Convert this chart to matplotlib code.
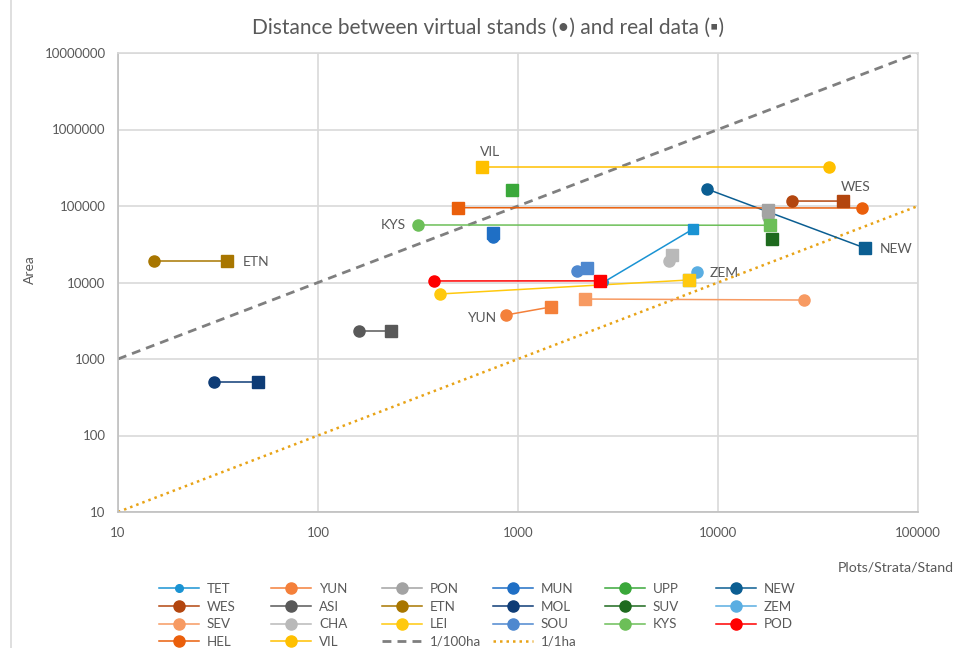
import matplotlib
matplotlib.use("Agg")
import matplotlib.pyplot as plt
from matplotlib.lines import Line2D

plt.rcParams['font.family'] = ['Lato', 'DejaVu Sans']

# ---- data: (virtual stand point, real data point) ----
names = ["TET", "YUN", "PON", "MUN", "UPP", "NEW",
         "WES", "ASI", "ETN", "MOL", "SUV", "ZEM",
         "SEV", "CHA", "LEI", "SOU", "KYS", "POD",
         "HEL", "VIL"]
colors = ["#1a93d3", "#f4803a", "#a3a3a3", "#1f6fc5", "#3aa83a", "#0b5e92",
          "#b3460f", "#595959", "#a87600", "#0e3c76", "#1e6a1e", "#5aaee2",
          "#f79a62", "#b9b9b9", "#ffc90e", "#4e88cf", "#6cbf58", "#ff0000",
          "#ea5f0b", "#ffc000"]
virt_x = [2690, 871, 17780, 750, 933, 8810,
          23440, 160, 15.1, 30.2, 18620, 7850,
          26900, 5690, 407, 1972, 316, 380,
          52500, 35900]
virt_y = [10160, 3760, 71800, 39400, 161900, 166700,
          116100, 2320, 19100, 500, 37000, 13700,
          5900, 19060, 7080, 14100, 56500, 10470,
          94200, 324000]
real_x = [7500, 1462, 17780, 750, 933, 54300,
          42170, 232, 35.1, 50.1, 18620, 7160,
          2163, 5890, 7160, 2213, 18200, 2570,
          501, 660]
real_y = [50000, 4790, 88700, 44400, 161900, 28200,
          116000, 2320, 19100, 500, 37500, 10790,
          6080, 22800, 10790, 15500, 56000, 10500,
          95000, 324000]

ref_x = [10, 100000]
ref_100ha = [1000, 10000000]
ref_1ha = [10, 100000]

labels_shown = {"VIL": ("real", 6, 11, "center"),
                "KYS": ("virt", -9, 0, "right"),
                "ETN": ("real", 11, -1, "left"),
                "YUN": ("virt", -7, -2, "right"),
                "WES": ("real", 9, 10, "center"),
                "NEW": ("real", 11, -1, "left"),
                "ZEM": ("virt", 9, -1, "left")}

W, H = 956, 648
fig = plt.figure(figsize=(W / 100, H / 100), dpi=100)
ax = fig.add_axes([118 / W, 1 - 512 / H, 800 / W, 459 / H])
ax.set_xscale("log")
ax.set_yscale("log")
ax.set_xlim(10, 100000)
ax.set_ylim(10, 10000000)

grid_c = "#d9d9d9"
ax.grid(True, which="major", color=grid_c, linewidth=1.2)
ax.set_axisbelow(True)
for s in ax.spines.values():
    s.set_color(grid_c)
    s.set_linewidth(1.2)
ax.spines["left"].set_color("#bfbfbf")
ax.spines["bottom"].set_color("#bfbfbf")
ax.minorticks_off()
ax.set_xticks([10, 100, 1000, 10000, 100000])
ax.set_xticklabels(["10", "100", "1000", "10000", "100000"])
ax.set_yticks([10, 100, 1000, 10000, 100000, 1000000, 10000000])
ax.set_yticklabels(["10", "100", "1000", "10000", "100000", "1000000", "10000000"])
ax.tick_params(length=0, labelsize=9.5, colors="#595959")
ax.tick_params(axis="x", pad=10.5)
ax.tick_params(axis="y", pad=9)

# reference lines
ax.plot(ref_x, ref_100ha, color="#7f7f7f", lw=2.0, ls=(0, (3.2, 2.2)), zorder=2)
ax.plot(ref_x, ref_1ha, color="#e8a317", lw=1.8, ls=(0, (1, 1.6)), zorder=2)

for i, n in enumerate(names):
    c = colors[i]
    ms = 5.5 if n == "TET" else 8
    ms_sq = 6.5 if n == "TET" else 8
    zsq = 3.5 if n == "ZEM" else 4
    ax.plot([virt_x[i], real_x[i]], [virt_y[i], real_y[i]], color=c, lw=1.1, zorder=3)
    ax.plot(virt_x[i], virt_y[i], marker="o", ms=ms, color=c, ls="none", zorder=4)
    ax.plot(real_x[i], real_y[i], marker="s", ms=ms_sq, color=c, ls="none", zorder=zsq)

for n, (which, dx, dy, ha) in labels_shown.items():
    i = names.index(n)
    px, py = (real_x[i], real_y[i]) if which == "real" else (virt_x[i], virt_y[i])
    ax.annotate(n, (px, py), xytext=(dx, dy), textcoords="offset points",
                ha=ha, va="center", fontsize=10, color="#595959", zorder=5)

# titles / axis labels
fig.text(488 / W, 1 - 28 / H, "Distance between virtual stands (•) and real data (▪)",
         ha="center", va="center", fontsize=15, color="#595959")
fig.text(838 / W, 1 - 568 / H, "Plots/Strata/Stand", ha="left", va="center",
         fontsize=10.2, color="#595959")
fig.text(30 / W, 1 - 270 / H, "Area", ha="center", va="center", rotation=90,
         fontsize=10, color="#595959")

# chart frame left edge
fig.add_artist(Line2D([11 / W, 11 / W], [0, 1], transform=fig.transFigure,
                      color="#d9d9d9", lw=1.2))

# legend: 6 columns, row-major like the reference
entries = []
for i, n in enumerate(names):
    ms = 5.5 if n == "TET" else 8
    entries.append((Line2D([], [], color=colors[i], lw=1.1, marker="o", ms=ms), n))
entries.append((Line2D([], [], color="#7f7f7f", lw=2.0, ls=(0, (3.2, 2.2))), "1/100ha"))
entries.append((Line2D([], [], color="#e8a317", lw=1.8, ls=(0, (1, 1.6))), "1/1ha"))

col_x = [160, 272, 383, 494, 606, 717]
for j in range(6):
    col = entries[j::6]
    leg = fig.legend([e[0] for e in col], [e[1] for e in col],
                     loc="upper left", bbox_to_anchor=((col_x[j] - 1) / W, 1 - 583 / H),
                     frameon=False, fontsize=9.6, handlelength=3.0, handletextpad=0.6,
                     labelspacing=0.42, borderpad=0, borderaxespad=0, labelcolor="#595959")

fig.savefig("out.png", dpi=100)
